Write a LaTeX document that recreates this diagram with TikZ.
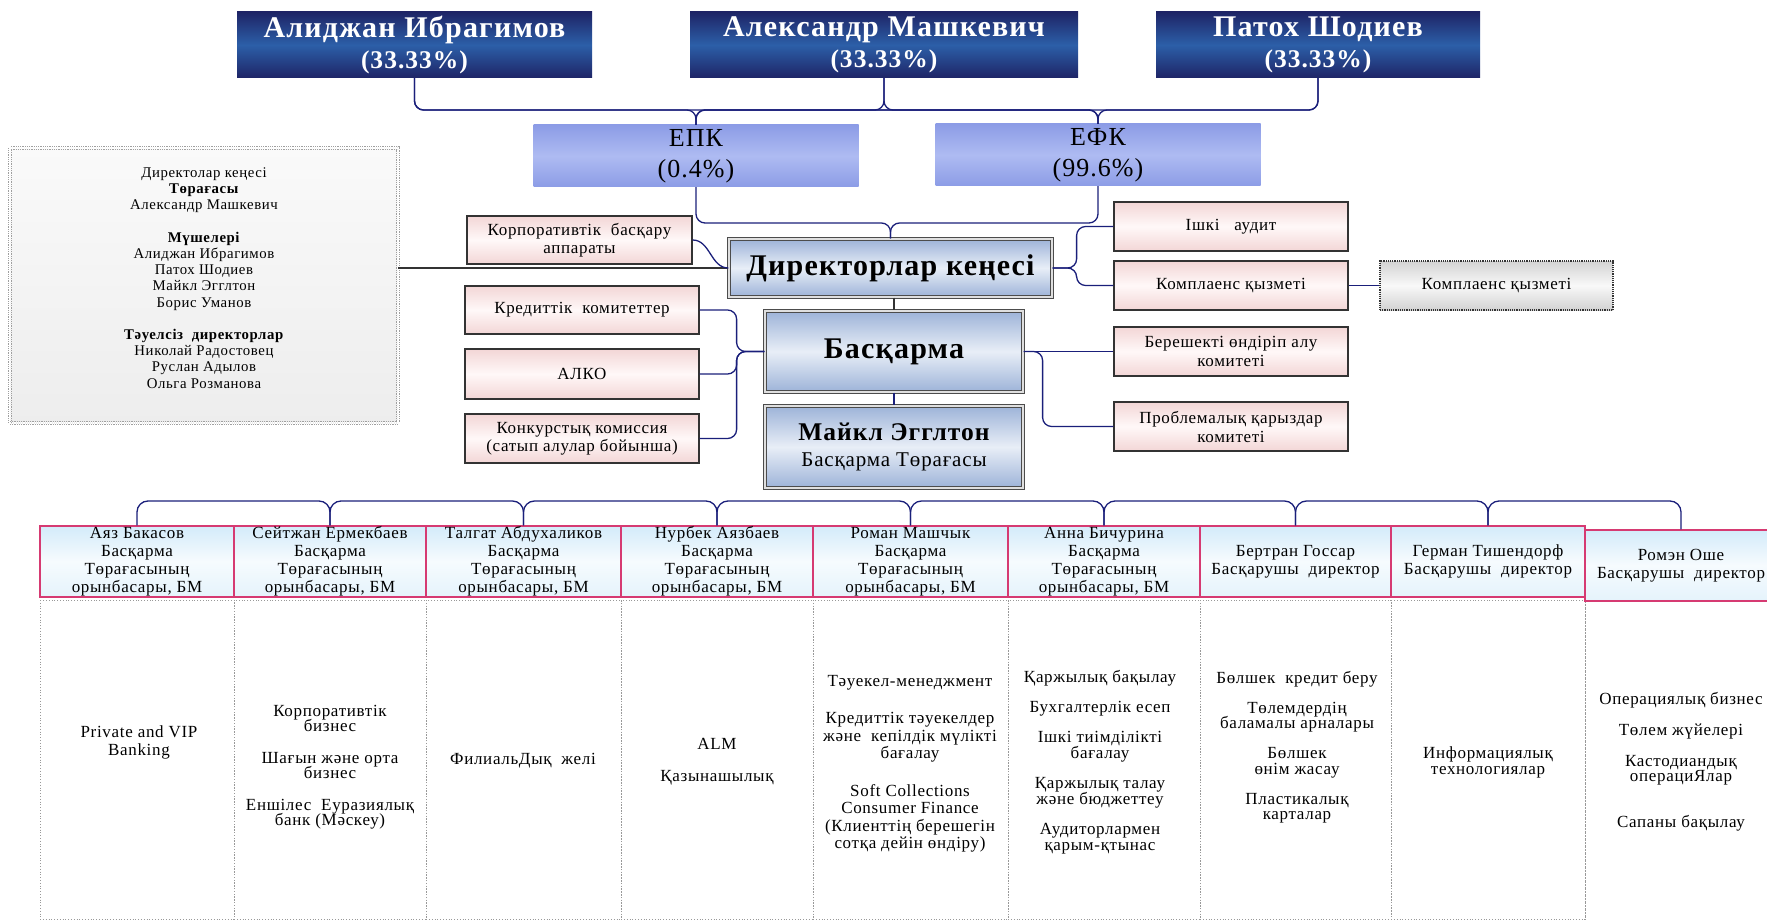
\documentclass[tikz,border=0pt]{standalone}
\usepackage{fontspec}
\setmainfont{Liberation Serif}[LetterSpace=4]
\newcommand\myfs[2]{\fontsize{#1}{#2}\selectfont\lineskiplimit=-30pt\relax}
\definecolor{lineblue}{HTML}{1A1F7A}
\definecolor{ownerdark}{HTML}{1E2466}
\definecolor{ownermid}{HTML}{2C5FA8}
\definecolor{compedge}{HTML}{8C9CE6}
\definecolor{compmid}{HTML}{AEBBF2}
\definecolor{mainedge}{HTML}{9DB3D8}
\definecolor{mainmid}{HTML}{E8EEF7}
\definecolor{pinkedge}{HTML}{F3D6D6}
\definecolor{pinkmid}{HTML}{FFF8F8}
\definecolor{blueedge}{HTML}{D3EBFA}
\definecolor{bluemid}{HTML}{F6FBFE}
\definecolor{crimson}{HTML}{D63A72}
\begin{document}
\begin{tikzpicture}[x=1pt,y=-1pt,
  conn/.style={draw=lineblue, line width=1.3pt, rounded corners=9pt},
  blk/.style={draw=black!80, line width=1.1pt},
  owner/.style={top color=ownerdark, bottom color=ownerdark, middle color=ownermid, text=white, align=center, inner sep=0pt, minimum height=66pt, font=\myfs{30}{31}\bfseries},
  compbox/.style={top color=compedge, bottom color=compedge, middle color=compmid, align=center, inner sep=0pt, minimum width=325pt, minimum height=62pt, font=\myfs{26}{31}},
  mainbox/.style={top color=mainedge, bottom color=mainedge, middle color=mainmid, draw=black!70, double=gray!25, double distance=2pt, line width=1.2pt, align=center, inner sep=0pt},
  pinkbox/.style={top color=pinkedge, bottom color=pinkedge, middle color=pinkmid, draw=black!80, line width=1.2pt, align=center, inner sep=0pt, minimum width=234pt, minimum height=48pt, font=\myfs{17}{18}},
  bbox/.style={top color=blueedge, bottom color=blueedge!60, middle color=bluemid, draw=crimson, line width=1.3pt, align=center, inner sep=0pt, minimum height=71pt, font=\myfs{17}{18}},
  coltext/.style={align=center, inner sep=0pt, font=\myfs{17}{16}},
  colframe/.style={draw=gray!80, dotted, line width=0.8pt}
]
\useasboundingbox (0,0) rectangle (1767,920);

% owners
\node[owner, minimum width=355pt] (o1) at (414.5,45) {Алиджан Ибрагимов\\\myfs{25.5}{31}(33.33\%)};
\node[owner, minimum width=388pt] (o2) at (884,45) {Александр Машкевич\\\myfs{25.5}{31}(33.33\%)};
\node[owner, minimum width=324pt] (o3) at (1318,45) {Патох Шодиев\\\myfs{25.5}{31}(33.33\%)};

% companies
\node[compbox] (epk) at (696,156) {ЕПК\\(0.4\%)};
\node[compbox] (efk) at (1098,155) {ЕФК\\(99.6\%)};

% main boxes
\node[mainbox, minimum width=323pt, minimum height=58pt, font=\myfs{30}{32}\bfseries] (dir) at (890.5,268) {Директорлар кеңесі};
\node[mainbox, minimum width=258pt, minimum height=81pt, font=\myfs{30}{32}\bfseries] (bask) at (894,351.5) {Басқарма};
\node[mainbox, minimum width=258pt, minimum height=82pt, font=\myfs{25.5}{26}\bfseries] (mike) at (894,447) {Майкл Эгглтон\\\myfs{21}{26}\mdseries Басқарма Төрағасы};

% info box
\node[top color=gray!4, bottom color=gray!14, draw=gray!75, densely dotted, double=white, double distance=1.5pt, line width=0.8pt, minimum width=388pt, minimum height=275pt, inner sep=0pt] (info) at (204,285.5) {};
\node[align=center, inner sep=0pt, font=\myfs{14.8}{16.2}] (infotext) at (204,278) {Директолар кеңесі\\\textbf{Төрағасы}\\Александр Машкевич\\[16.2pt]\textbf{Мүшелері}\\Алиджан Ибрагимов\\Патох Шодиев\\Майкл Эгглтон\\Борис Уманов\\[16.2pt]\textbf{Тәуелсіз\ \ директорлар}\\Николай Радостовец\\Руслан Адылов\\Ольга Розманова};

% left pink boxes
\node[pinkbox, minimum width=225pt] (korp) at (579.5,240) {Корпоративтік\ \ басқару\\аппараты};
\node[pinkbox] (kred) at (582,310) {Кредиттік\ \ комитеттер};
\node[pinkbox, minimum height=50pt] (alko) at (582,374) {АЛКО};
\node[pinkbox, minimum height=49pt] (konk) at (582,438.5) {Конкурстық комиссия\\(сатып алулар бойынша)};

% right pink boxes
\node[pinkbox, minimum height=49pt] (audit) at (1231,226.5) {Ішкі\ \ \ аудит};
\node[pinkbox, minimum height=49pt] (comp) at (1231,285.5) {Комплаенс қызметі};
\node[top color=gray!35, bottom color=gray!35, middle color=gray!5, draw=black!80, densely dotted, line width=1.2pt, align=center, inner sep=0pt, minimum width=233pt, minimum height=49pt, font=\myfs{17}{18}] (comp2) at (1496.5,285.5) {Комплаенс қызметі};
\node[pinkbox, minimum height=49pt, font=\myfs{17}{19}] (ber) at (1231,351.5) {Берешекті өндіріп алу\\комитеті};
\node[pinkbox, minimum height=49pt, font=\myfs{17}{19}] (prob) at (1231,426.5) {Проблемалық қарыздар\\комитеті};

% bottom column frames
\foreach \xa/\xb in {40/234, 234/426, 426/621, 621/813, 813/1008, 1008/1200, 1200/1391, 1391/1585}
  \draw[colframe] (\xa,600) rectangle (\xb,919);
\draw[colframe] (1585,601) rectangle (1790,930);

% bottom boxes
\node[bbox, minimum width=194pt] (b1) at (137,561.5) {Аяз Бакасов\\Басқарма\\Төрағасының\\орынбасары, БМ};
\node[bbox, minimum width=192pt] (b2) at (330,561.5) {Сейтжан Ермекбаев\\Басқарма\\Төрағасының\\орынбасары, БМ};
\node[bbox, minimum width=195pt] (b3) at (523.5,561.5) {Талгат Абдухаликов\\Басқарма\\Төрағасының\\орынбасары, БМ};
\node[bbox, minimum width=192pt] (b4) at (717,561.5) {Нурбек Аязбаев\\Басқарма\\Төрағасының\\орынбасары, БМ};
\node[bbox, minimum width=195pt] (b5) at (910.5,561.5) {Роман Машчык\\Басқарма\\Төрағасының\\орынбасары, БМ};
\node[bbox, minimum width=192pt] (b6) at (1104,561.5) {Анна Бичурина\\Басқарма\\Төрағасының\\орынбасары, БМ};
\node[bbox, minimum width=191pt] (b7) at (1295.5,561.5) {Бертран Госсар\\Басқарушы\ \ директор};
\node[bbox, minimum width=194pt] (b8) at (1488,561.5) {Герман Тишендорф\\Басқарушы\ \ директор};
\node[bbox, minimum width=192pt] (b9) at (1681,565.5) {Ромэн Оше\\Басқарушы\ \ директор};

% column texts
\node[coltext, font=\myfs{17}{18}] (c1) at (139,742) {Private and VIP\\Banking};
\node[coltext, font=\myfs{17}{15}] (c2) at (330,767.5) {Корпоративтік\\бизнес\\[17pt]Шағын және орта\\бизнес\\[17pt]Еншілес\ \ Еуразиялық\\банк (Мәскеу)};
\node[coltext] (c3) at (523,761) {ФилиальДық\ \ желі};
\node[coltext, font=\myfs{17}{18}] (c4) at (717,762) {ALM\\[14pt]Қазынашылық};
\node[coltext, font=\myfs{17}{17.5}] (c5) at (910,764) {Тәуекел-менеджмент\\[20pt]Кредиттік тәуекелдер\\және\ \ кепілдік мүлікті\\бағалау\\[20pt]Soft Collections\\Consumer Finance\\(Клиенттің берешегін\\сотқа дейін өндіру)};
\node[coltext, font=\myfs{17}{16}] (c6) at (1100,762) {Қаржылық бақылау\\[14pt]Бухгалтерлік есеп\\[14pt]Ішкі тиімділікті\\бағалау\\[14pt]Қаржылық талау\\және бюджеттеу\\[14pt]Аудиторлармен\\қарым-қтынас};
\node[coltext, font=\myfs{17}{15.5}] (c7) at (1297,747) {Бөлшек\ \ кредит беру\\[14.5pt]Төлемдердің\\баламалы арналары\\[14.5pt]Бөлшек\\өнім жасау\\[14.5pt]Пластикалық\\карталар};
\node[coltext] (c8) at (1488,762) {Информациялық\\технологиялар};
\node[coltext, font=\myfs{17}{15.5}] (c9) at (1681,761.5) {Операциялық бизнес\\[15.5pt]Төлем жүйелері\\[15.5pt]Кастодиандық\\операциЯлар\\[30pt]Сапаны бақылау};

% connectors: owners -> companies
\foreach \o in {o1,o2,o3}
  \foreach \c in {epk,efk}
    \draw[conn] (\o.south) -- (\o.south |- 0,110) -- (\c.north |- 0,110) -- (\c.north);
% companies -> board
\foreach \c in {epk,efk}
  \draw[conn] (\c.south) -- (\c.south |- 0,223) -- (dir.north |- 0,223) -- (dir.north);
% board connections
\draw[blk] (info.east |- dir.west) -- (dir.west);
\draw[conn] (korp.east) to[out=0,in=180] (dir.west);
\draw[conn] (dir.east) -- ++(24,0) |- (audit.west);
\draw[conn] (dir.east) -- ++(24,0) |- (comp.west);
\draw[conn] (comp.east) -- (comp2.west);
\draw[blk] (bask.north |- dir.south) -- (bask.north);
\draw[conn] (bask.south) -- (mike.north);
% committees -> bask
\foreach \k in {kred,alko,konk}
  \draw[conn] (\k.east) -- ++(37,0) |- (bask.west);
\draw[conn] (bask.east) -- (ber.west);
\draw[conn] (bask.east) -- ++(19,0) |- (prob.west);
% bottom bus
\foreach \a/\b in {b1/b2,b2/b3,b3/b4,b4/b5,b5/b6,b6/b7,b7/b8,b8/b9}
  \draw[conn, rounded corners=11pt] (\a.north) -- (\a.north |- 0,501) -| (\b.north);
\end{tikzpicture}
\end{document}
